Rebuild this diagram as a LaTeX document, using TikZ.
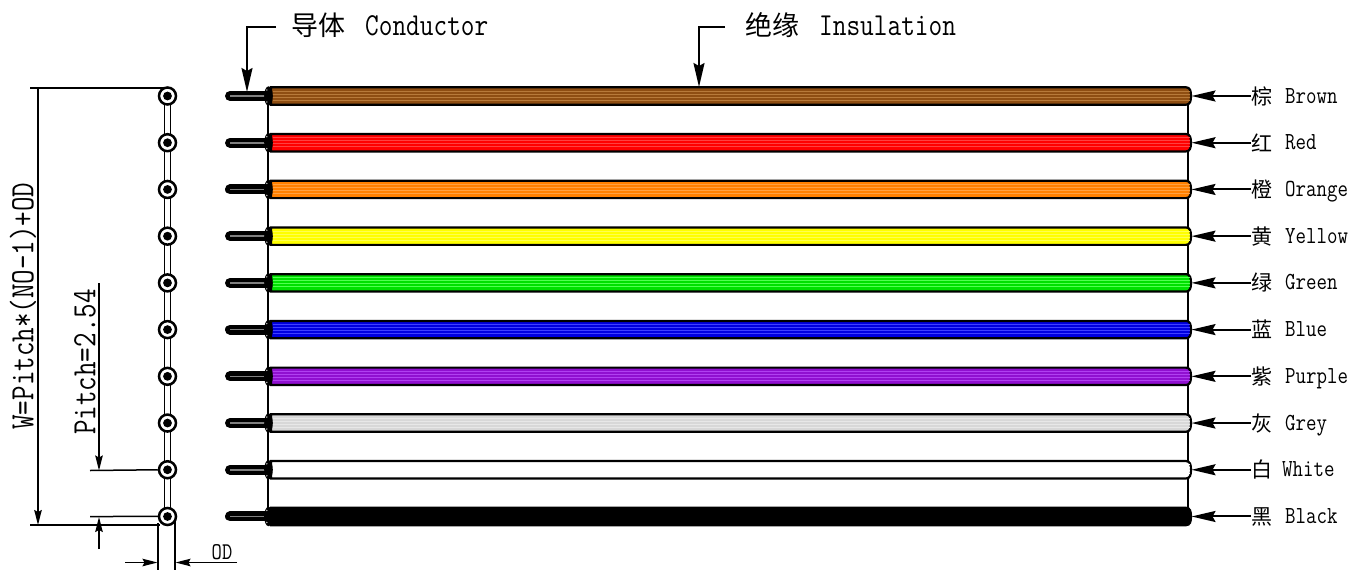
\documentclass[tikz,border=0pt]{standalone}
\usepackage{fontspec}
\setmonofont[FakeStretch=0.83]{Latin Modern Mono}
\newfontfamily\cjk{Noto Sans CJK SC}
\usetikzlibrary{arrows.meta}
\tikzset{
  x=1pt,y=-1pt,
  thinline/.style={line width=1.5pt,black},
  dimarrow/.style={thinline,-{Stealth[length=15pt,width=7.5pt,inset=2pt]}},
  leader/.style={line width=2pt,black,-{Stealth[length=24pt,width=11pt,inset=3pt]}},
  lbl/.style={anchor=base west,inner sep=0pt,font=\ttfamily\fontsize{24.5}{26}\selectfont},
  cjklbl/.style={anchor=west,inner sep=0pt,font=\cjk\fontsize{21}{22}\selectfont},
  big/.style={anchor=west,inner sep=0pt,font=\ttfamily\fontsize{32}{34}\selectfont},
  bigcjk/.style={anchor=west,inner sep=0pt,font=\cjk\fontsize{27}{28}\selectfont},
  dimtext/.style={inner sep=0pt,rotate=90,font=\ttfamily\fontsize{34}{36}\selectfont},
}
\definecolor{cBrown}{HTML}{8F4E12}\definecolor{sBrown}{HTML}{B87A3A}
\definecolor{cRed}{HTML}{FF0000}\definecolor{sRed}{HTML}{FF4040}
\definecolor{cOrange}{HTML}{FF8000}\definecolor{sOrange}{HTML}{FFA040}
\definecolor{cYellow}{HTML}{FFFF00}\definecolor{sYellow}{HTML}{FFFF50}
\definecolor{cGreen}{HTML}{00E000}\definecolor{sGreen}{HTML}{50FF50}
\definecolor{cBlue}{HTML}{0000E0}\definecolor{sBlue}{HTML}{4040FF}
\definecolor{cPurple}{HTML}{9010D0}\definecolor{sPurple}{HTML}{B040F0}
\definecolor{cGrey}{HTML}{D8D8D8}\definecolor{sGrey}{HTML}{E8E8E8}
\definecolor{cWhite}{HTML}{FFFFFF}\definecolor{sWhite}{HTML}{FFFFFF}
\definecolor{cBlack}{HTML}{000000}\definecolor{sBlack}{HTML}{000000}
\begin{document}
\begin{tikzpicture}
\useasboundingbox[fill=white] (0,0) rectangle (1365,570);
% outer vertical edges of the ribbon
\draw[line width=2.5pt] (268,96) -- (268,516.5);
\draw[line width=2pt] (1188,96) -- (1188,516.5);
% cross-section web
\draw[line width=1.7pt] (164.5,96) -- (164.5,516.5) (170.5,96) -- (170.5,516.5);
\foreach \i/\cn/\zh/\en/\lx in {
  0/Brown/棕/Brown/1285, 1/Red/红/Red/1285, 2/Orange/橙/Orange/1285,
  3/Yellow/黄/Yellow/1285, 4/Green/绿/Green/1285, 5/Blue/蓝/Blue/1285,
  6/Purple/紫/Purple/1285, 7/Grey/灰/Grey/1285, 8/White/白/White/1282,
  9/Black/黑/Black/1285}{
  \pgfmathsetmacro{\yy}{96+\i*46.72}
  % section circle
  \node[circle,draw,line width=2.5pt,fill=white,minimum size=17pt,inner sep=0pt] (sec\i) at (167.5,\yy) {};
  \fill (sec\i.center) circle (4.4);
  % conductor
  \draw[line width=10pt,line cap=round] (230,\yy) -- (268,\yy);
  \draw[line width=1.6pt,black!50] (230,\yy) -- (265,\yy);
  % insulation
  \path[fill=c\cn,draw=black,line width=2.2pt]
    (271,\yy-8.7) -- (1186,\yy-8.7) .. controls (1190,\yy-8.7) and (1191,\yy-5) .. (1191,\yy)
    .. controls (1191,\yy+5) and (1190,\yy+8.7) .. (1186,\yy+8.7) -- (271,\yy+8.7) -- cycle;
  \foreach \d in {-5,-2,1,4}{
    \draw[s\cn,line width=1pt] (273,\yy+\d) -- (1189.5,\yy+\d);
  }
  \fill[black] (268.5,\yy) ellipse (4.3 and 9.7);
  \fill[gray!50] (266.8,\yy+6) circle (0.8) (266.8,\yy-6) circle (0.8);
  % labels
  \node[cjklbl] (zh\i) at (1251,\yy) {\zh};
  \node[lbl] (en\i) at (\lx,\yy+7) {\en};
  \coordinate (tip\i) at (1191.5,\yy);
  \draw[line width=2pt,-{Stealth[length=24pt,width=11pt,inset=3pt]}] (zh\i.west) -- (tip\i);
}
% top labels
\node[bigcjk] (condzh) at (291,25) {导体};
\node[big] (conden) at (365,26) {Conductor};
\node[bigcjk] (inszh) at (745,25) {绝缘};
\node[big] (insen) at (819,26) {Insulation};
\coordinate (ct) at (247,92);
\coordinate (it) at (699,87);
\coordinate (cs) at (276,27);
\coordinate (is) at (725,27);
\draw[leader] (cs) -- (247,27) -- (ct);
\draw[leader] (is) -- (699,27) -- (it);
% W dimension
\coordinate (wa) at (38,88);
\coordinate (wb) at (38,525);
\coordinate (wt) at (164,88);
\draw[thinline] (30,88) -- (wt);
\draw[thinline] (30,525) -- (160,525);
\draw[dimarrow] (wa) -- (wb);
\node[dimtext] (w) at (23,306) {W=Pitch*(NO-1)+OD};
% pitch dimension
\coordinate (pa) at (99,283);
\coordinate (pb) at (99,470.5);
\coordinate (pc) at (99,549);
\coordinate (pd) at (99,517);
\draw[thinline] (90,470.5) -- (sec8.west);
\draw[thinline] (90,516.5) -- (sec9.west);
\draw[dimarrow] (pa) -- (pb);
\draw[dimarrow] (pc) -- (pd);
\node[dimtext] (p) at (85,362) {Pitch=2.54};
% OD dimension
\coordinate (oa) at (158,523);
\coordinate (ob) at (175,521);
\draw[thinline] (oa) -- (158,570);
\draw[thinline] (ob) -- (175,570);
\coordinate (la) at (125,562.5);
\coordinate (lb) at (157.5,562.5);
\coordinate (ra) at (237,562.5);
\coordinate (rb) at (175.5,562.5);
\draw[dimarrow] (la) -- (lb);
\draw[dimarrow] (ra) -- (rb);
\node[inner sep=0pt,font=\ttfamily\fontsize{24}{26}\selectfont] (od) at (222,552) {OD};
\end{tikzpicture}
\end{document}
